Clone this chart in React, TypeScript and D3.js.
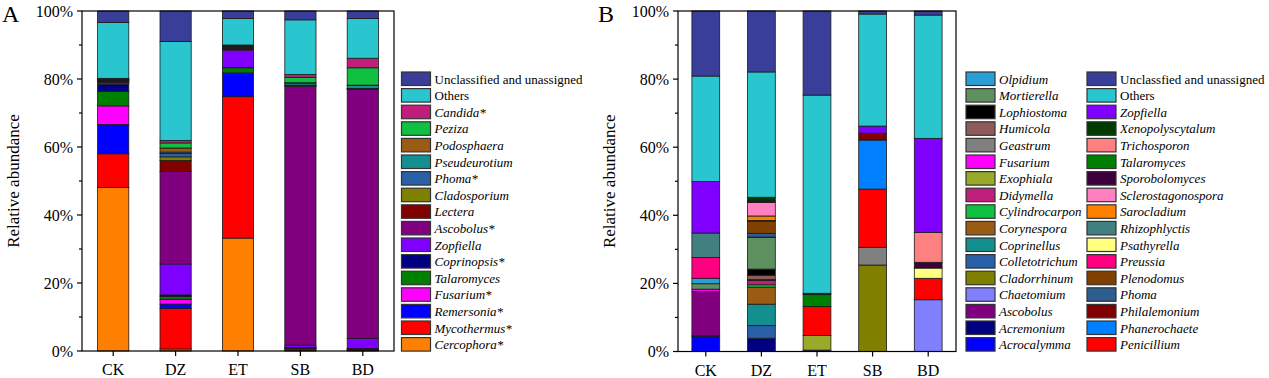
import React from "react";
import * as d3 from "d3";

const groups = ["CK", "DZ", "ET", "SB", "BD"];
const yTicks = [0, 20, 40, 60, 80, 100];
const yMinorTicks = [10, 30, 50, 70, 90];

// Panel A series, bottom -> top
const seriesA = [
  "Cercophora*", "Mycothermus*", "Remersonia*", "Fusarium*", "Talaromyces", "Coprinopsis*",
  "Zopfiella", "Ascobolus*", "Lectera", "Cladosporium", "Phoma*", "Pseudeurotium",
  "Podosphaera", "Peziza", "Candida*", "Others", "Unclassified and unassigned",
];
const colorsA = [
  "#FF8000", "#FF0000", "#0000FF", "#FF00FF", "#008000", "#000080",
  "#8000FF", "#800080", "#800000", "#808000", "#2A60A8", "#138F8F",
  "#9A5B14", "#10C040", "#BF1F7A", "#2AC6D0", "#393E98",
];
const aCK = [48.1, 9.9, 8.6, 5.5, 4.2, 2.2, 0.5, 0.2, 0.2, 0.1, 0.2, 0.1, 0.1, 0.1, 0.2, 16.4, 3.4];
const aDZ = [0.6, 11.9, 1.3, 1.4, 0.8, 0.5, 9.1, 27.2, 3.2, 1.1, 1.0, 0.4, 1.2, 1.5, 0.7, 29.1, 9.0];
const aET = [33.2, 41.6, 6.9, 0.1, 1.5, 0.1, 5.1, 0.3, 0.3, 0.2, 0.2, 0.1, 0.1, 0.1, 0.2, 7.8, 2.2];
const aSB = [0.1, 0.5, 0.1, 0.1, 0.1, 0.1, 0.7, 76.2, 0.1, 0.1, 0.1, 0.6, 0.1, 1.6, 0.8, 16.1, 2.6];
const aBD = [0.1, 0.3, 0.1, 0.05, 0.05, 0.1, 3.0, 73.3, 0.1, 0.05, 0.05, 0.9, 0.1, 5.1, 2.8, 11.7, 2.2];

// Panel B series, bottom -> top
const seriesB = [
  "Acrocalymma", "Acremonium", "Ascobolus", "Chaetomium", "Cladorrhinum", "Colletotrichum",
  "Coprinellus", "Corynespora", "Cylindrocarpon", "Didymella", "Exophiala", "Fusarium",
  "Geastrum", "Humicola", "Lophiostoma", "Mortierella", "Olpidium", "Penicillium",
  "Phanerochaete", "Philalemonium", "Phoma", "Plenodomus", "Preussia", "Psathyrella",
  "Rhizophlyctis", "Sarocladium", "Sclerostagonospora", "Sporobolomyces", "Talaromyces",
  "Trichosporon", "Xenopolyscytalum", "Zopfiella", "Others", "Unclassfied and unassigned",
];
const colorsB = [
  "#0000FF", "#000080", "#800080", "#8080FF", "#808000", "#2A60A8",
  "#138F8F", "#9A5B14", "#10C040", "#BF1F7A", "#99AA2A", "#FF00FF",
  "#808080", "#8E5A5A", "#000000", "#5F9060", "#2A9FD6", "#FF0000",
  "#0080FF", "#800000", "#2D5C8E", "#804000", "#FF0080", "#FFFF80",
  "#408080", "#FF8000", "#FF80C0", "#3C003C", "#008000",
  "#FF8080", "#003C00", "#8000FF", "#2AC6D0", "#393E98",
];
const bCK = [4.5, 0.1, 13.0, 0, 0, 0, 0, 0, 0, 0, 0, 0.7, 0, 0, 0, 1.6, 1.6, 0, 0, 0, 0, 0, 6.1, 0, 7.2, 0, 0, 0, 0, 0, 0, 15.1, 31.0, 19.1];
const bDZ = [0, 3.9, 0, 0, 0, 3.7, 6.3, 5.0, 0.7, 1.3, 0.1, 0.05, 0.05, 1.3, 1.8, 9.3, 0.1, 0, 0, 0, 1.1, 3.6, 0.1, 0, 0.1, 1.3, 4.0, 0.3, 0.2, 0, 1.0, 0, 36.8, 17.9];
const bET = [0, 0.4, 0, 0, 0, 0, 0, 0, 0, 0, 4.3, 0, 0, 0, 0, 0, 0, 8.5, 0, 0, 0, 0, 0, 0, 0, 0, 0, 0, 3.5, 0, 0.4, 0, 58.2, 24.7];
const bSB = [0, 0, 0, 0, 25.4, 0, 0, 0, 0, 0, 0, 0, 5.2, 0, 0, 0, 0, 17.1, 14.4, 2.0, 0, 0, 0, 0, 0, 0, 0, 0, 0, 0, 0, 2.1, 32.9, 0.9];
const bBD = [0, 0, 0, 15.2, 0, 0, 0, 0, 0, 0, 0, 0, 0, 0, 0, 0, 0, 6.3, 0, 0, 0, 0, 0, 3.0, 0, 0, 0, 1.7, 0, 8.8, 0, 27.6, 36.2, 1.2];

const FONT = "'Liberation Serif', 'Times New Roman', serif";

type PanelProps = {
  left: number; right: number; top: number; bottom: number;
  letter: string; letterX: number;
  series: string[]; colors: string[]; rows: number[][];
};

function Panel({ left, right, top, bottom, letter, letterX, series, colors, rows }: PanelProps) {
  const x = d3.scaleBand<string>().domain(groups).range([left, right]).paddingInner(0.5).paddingOuter(0.25);
  const y = d3.scaleLinear().domain([0, 100]).range([bottom, top]);
  const table = groups.map((g, i) => {
    const o: any = { group: g };
    series.forEach((s, j) => { o[s] = rows[i][j]; });
    return o;
  });
  const stacked = d3.stack<any>().keys(series)(table);
  return (
    <g>
      <text x={letterX} y={22} fontSize={24} fontFamily={FONT}>{letter}</text>
      {stacked.map((layer, li) => (
        <g key={li}>
          {layer.map((d, gi) => {
            const v = d[1] - d[0];
            if (v <= 0) return null;
            return (
              <rect key={gi} x={x(groups[gi])} width={x.bandwidth()} y={y(d[1])}
                height={y(d[0]) - y(d[1])} fill={colors[li]} stroke="#1a1a1a" strokeWidth={0.8} />
            );
          })}
        </g>
      ))}
      <rect x={left} y={top} width={right - left} height={bottom - top} fill="none" stroke="#000" strokeWidth={1.2} />
      {yTicks.map((t) => (
        <g key={t}>
          <line x1={left - 5} x2={left} y1={y(t)} y2={y(t)} stroke="#000" strokeWidth={1.2} />
          <text x={left - 9} y={y(t) + 5.5} textAnchor="end" fontSize={16} fontFamily={FONT}>{t}%</text>
        </g>
      ))}
      {yMinorTicks.map((t) => (
        <line key={t} x1={left - 3} x2={left} y1={y(t)} y2={y(t)} stroke="#000" strokeWidth={1.2} />
      ))}
      {groups.map((g) => {
        const cx = (x(g) as number) + x.bandwidth() / 2;
        return (
          <g key={g}>
            <line x1={cx} x2={cx} y1={bottom} y2={bottom + 5} stroke="#000" strokeWidth={1.2} />
            <text x={cx} y={bottom + 24} textAnchor="middle" fontSize={16} fontFamily={FONT}>{g}</text>
          </g>
        );
      })}
      <text transform={`translate(${left - 63},${(top + bottom) / 2}) rotate(-90)`} textAnchor="middle"
        fontSize={17} fontFamily={FONT}>Relative abundance</text>
    </g>
  );
}

type LegendProps = { x: number; y: number; items: { name: string; color: string }[] };
function Legend({ x, y, items }: LegendProps) {
  const pitch = 16.6;
  return (
    <g>
      {items.map((it, i) => {
        const italic = !(it.name.startsWith("Uncl") || it.name === "Others");
        return (
          <g key={i}>
            <rect x={x} y={y + i * pitch} width={29} height={13.5} fill={it.color} stroke="#333" strokeWidth={1.2} />
            <text x={x + 33} y={y + i * pitch + 11.5} fontSize={13} fontFamily={FONT}
              fontStyle={italic ? "italic" : "normal"}>{it.name}</text>
          </g>
        );
      })}
    </g>
  );
}

export default function App() {
  const rowsA = [aCK, aDZ, aET, aSB, aBD];
  const rowsB = [bCK, bDZ, bET, bSB, bBD];
  const legA = seriesA.map((n, i) => ({ name: n, color: colorsA[i] })).reverse();
  const legB1 = seriesB.slice(0, 17).map((n, i) => ({ name: n, color: colorsB[i] })).reverse();
  const legB2 = seriesB.slice(17).map((n, i) => ({ name: n, color: colorsB[i + 17] })).reverse();
  return (
    <svg width={1269} height={378} style={{ position: "absolute", left: 0, top: 0, background: "#fff" }}>
      <rect x={0} y={0} width={1269} height={378} fill="#fff" />
      <Panel left={82} right={394} top={11} bottom={351} letter="A" letterX={2}
        series={seriesA} colors={colorsA} rows={rowsA} />
      <Legend x={401.5} y={72} items={legA} />
      <Panel left={678} right={956} top={11} bottom={351.5} letter="B" letterX={598}
        series={seriesB} colors={colorsB} rows={rowsB} />
      <Legend x={966} y={72} items={legB1} />
      <Legend x={1087} y={72} items={legB2} />
    </svg>
  );
}
